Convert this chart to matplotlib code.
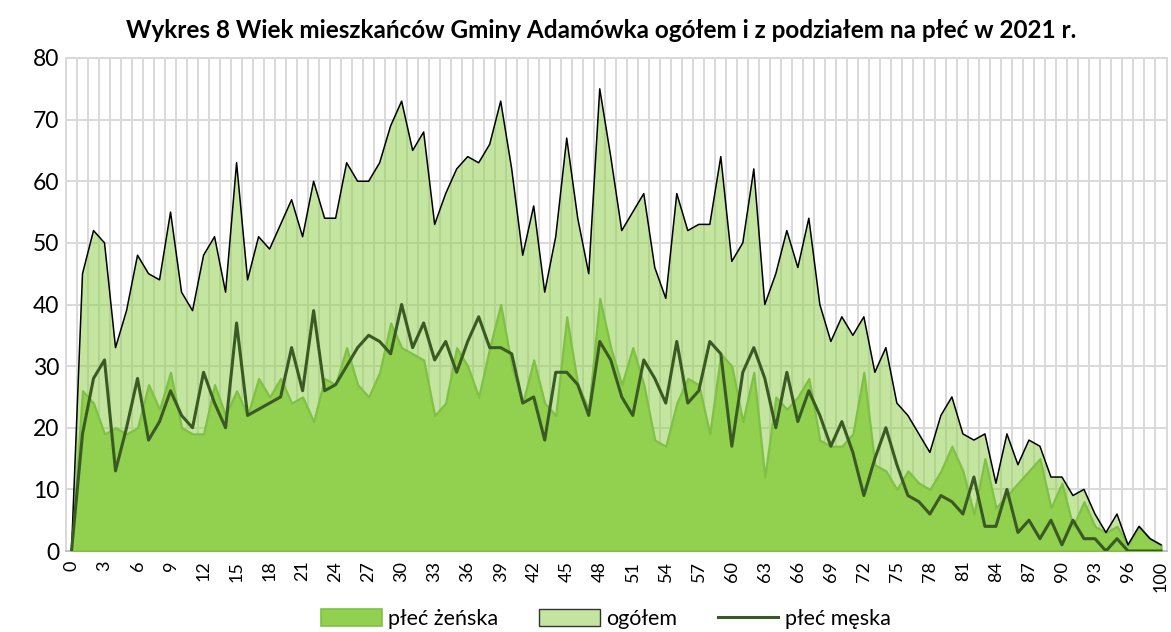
import matplotlib
matplotlib.use("Agg")
import matplotlib.pyplot as plt
from matplotlib.patches import Patch
from matplotlib.lines import Line2D
import numpy as np

plt.rcParams['font.family'] = ['Lato', 'DejaVu Sans']

ages = list(range(0, 99)) + [100]

zenska = [0, 26, 24, 19, 20, 19, 20, 27, 23, 29,
          20, 19, 19, 27, 22, 26, 22, 28, 25, 28,
          24, 25, 21, 28, 27, 33, 27, 25, 29, 37,
          33, 32, 31, 22, 24, 33, 30, 25, 33, 40,
          30, 24, 31, 24, 22, 38, 27, 23, 41, 33,
          27, 33, 27, 18, 17, 24, 28, 27, 19, 32,
          30, 21, 29, 12, 25, 23, 25, 28, 18, 17,
          17, 19, 29, 14, 13, 10, 13, 11, 10, 13,
          17, 13, 6, 15, 7, 9, 11, 13, 15, 7,
          11, 4, 8, 4, 3, 4, 1, 4, 2, 1]

meska = [0, 19, 28, 31, 13, 20, 28, 18, 21, 26,
         22, 20, 29, 24, 20, 37, 22, 23, 24, 25,
         33, 26, 39, 26, 27, 30, 33, 35, 34, 32,
         40, 33, 37, 31, 34, 29, 34, 38, 33, 33,
         32, 24, 25, 18, 29, 29, 27, 22, 34, 31,
         25, 22, 31, 28, 24, 34, 24, 26, 34, 32,
         17, 29, 33, 28, 20, 29, 21, 26, 22, 17,
         21, 16, 9, 15, 20, 14, 9, 8, 6, 9,
         8, 6, 12, 4, 4, 10, 3, 5, 2, 5,
         1, 5, 2, 2, 0, 2, 0, 0, 0, 0]

ogolem = [0, 45, 52, 50, 33, 39, 48, 45, 44, 55,
          42, 39, 48, 51, 42, 63, 44, 51, 49, 53,
          57, 51, 60, 54, 54, 63, 60, 60, 63, 69,
          73, 65, 68, 53, 58, 62, 64, 63, 66, 73,
          62, 48, 56, 42, 51, 67, 54, 45, 75, 64,
          52, 55, 58, 46, 41, 58, 52, 53, 53, 64,
          47, 50, 62, 40, 45, 52, 46, 54, 40, 34,
          38, 35, 38, 29, 33, 24, 22, 19, 16, 22,
          25, 19, 18, 19, 11, 19, 14, 18, 17, 12,
          12, 9, 10, 6, 3, 6, 1, 4, 2, 1]

title = "Wykres 8 Wiek mieszkańców Gminy Adamówka ogółem i z podziałem na płeć w 2021 r."
yticks = [0, 10, 20, 30, 40, 50, 60, 70, 80]

c_fem = '#92D050'
c_fem_edge = '#80C046'
c_tot_alpha = 0.55
c_male = '#3A5A24'

fig = plt.figure(figsize=(11.71, 6.32), dpi=100)
ax = fig.add_axes([66/1171, 1-551/632, 1100.5/1171, (551-58)/632])

x = np.arange(len(ages))

ax.fill_between(x, 0, ogolem, facecolor=c_fem, alpha=c_tot_alpha, linewidth=0, zorder=2)
ax.fill_between(x, 0, zenska, facecolor=c_fem, edgecolor=c_fem_edge, linewidth=1.6, zorder=3)
ax.plot(x, ogolem, color='black', linewidth=1.1, zorder=4)
ax.plot(x, meska, color=c_male, linewidth=2.2, zorder=5)

ax.set_xlim(-0.5, len(ages) - 0.5)
ax.set_ylim(0, 80)
ax.set_yticks(yticks)
ax.set_yticklabels([str(v) for v in yticks], fontsize=16.5)

tick_idx = list(range(0, len(ages), 3))
ax.set_xticks(tick_idx)
ax.set_xticklabels([str(ages[i]) for i in tick_idx], rotation=90, fontsize=13)
ax.set_xticks(np.arange(-0.5, len(ages), 1.0), minor=True)

ax.tick_params(axis='both', which='both', length=0)
ax.tick_params(axis='y', pad=5)
ax.tick_params(axis='x', pad=7)

ax.set_axisbelow(True)
ax.grid(True, which='minor', axis='x', color='#D9D9D9', linewidth=1.4)
ax.grid(True, which='major', axis='y', color='#D9D9D9', linewidth=1.4)
ax.grid(False, which='major', axis='x')
for side in ['left', 'right', 'top']:
    ax.spines[side].set_color('#D9D9D9')
    ax.spines[side].set_linewidth(1.4)
ax.spines['bottom'].set_color('#BFBFBF')
ax.spines['bottom'].set_linewidth(1.4)

fig.text(601/1171, 1-30/632, title, ha='center', va='center',
         fontsize=17.5, fontweight='bold')

handles = [
    Patch(facecolor=c_fem, edgecolor=c_fem_edge, linewidth=1.2, label='płeć żeńska'),
    Patch(facecolor=(195/255, 229/255, 159/255), edgecolor='#333333', linewidth=1.0, label='ogółem'),
    Line2D([0], [0], color=c_male, linewidth=2.2, label='płeć męska'),
]
fig.legend(handles=handles, loc='center', bbox_to_anchor=(606/1171, 1-619/632),
           ncol=3, frameon=False, fontsize=15.5, handlelength=2.8, handleheight=0.8,
           handletextpad=0.3, columnspacing=1.9)

fig.savefig('out.png', dpi=100)
